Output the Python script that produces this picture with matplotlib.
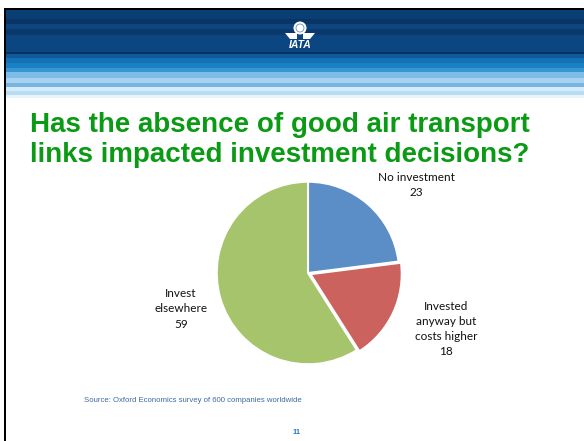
import matplotlib
matplotlib.use("Agg")
import matplotlib.pyplot as plt
from matplotlib.patches import Rectangle, Circle, Polygon

# data
categories = ["No investment", "Invested\nanyway but\ncosts higher", "Invest\nelsewhere"]
values = [23, 18, 59]
colors = ["#5B8EC6", "#CC625E", "#A5C46C"]
title = "Has the absence of good air transport\nlinks impacted investment decisions?"
source = "Source: Oxford Economics survey of 600 companies worldwide"
page_no = "11"

W, H = 584, 441
fig = plt.figure(figsize=(W / 100, H / 100), dpi=100)
fig.patch.set_facecolor("white")

# background axes in pixel coords
bg = fig.add_axes([0, 0, 1, 1])
bg.set_xlim(0, W)
bg.set_ylim(H, 0)
bg.axis("off")

# header stripes (top, bottom, colour)
stripes = [
    (8, 10, "#000000"), (10, 19, "#0A3F75"), (19, 24, "#093464"),
    (24, 29, "#0C4580"), (29, 35, "#0A3A6C"), (35, 52, "#0C4680"),
    (52, 54, "#083060"), (54, 58, "#0F5A9A"), (58, 63, "#1670B5"),
    (63, 68, "#1A80C5"), (68, 72, "#3896D2"), (72, 78, "#7DBDE8"),
    (78, 83, "#A8D3F0"), (83, 87, "#78B6E2"), (87, 91, "#D6EAF8"),
    (91, 95, "#B8DCF3"), (95, 98, "#E8F4FB"),
]
for y0, y1, c in stripes:
    bg.add_patch(Rectangle((4, y0), W, y1 - y0, color=c, lw=0))
# left border
bg.add_patch(Rectangle((4, 8), 2, H, color="#000000", lw=0))

# logo
bg.add_patch(Circle((300, 28), 6.5, color="white", lw=0))
bg.add_patch(Circle((300, 28), 4, fill=False, ec="#6B8FB8", lw=0.6))
bg.add_patch(Polygon([(285, 33), (297, 33), (297, 39), (290, 39)], color="white", lw=0))
bg.add_patch(Polygon([(303, 33), (315, 33), (310, 39), (303, 39)], color="white", lw=0))
bg.text(300, 45, "IATA", color="white", fontsize=7.5, fontweight="bold",
        style="italic", ha="center", va="center", family="Liberation Sans")

# title
bg.text(280, 140, title, color="#0A9A14", fontsize=20, fontweight="bold",
        ha="center", va="center", family="Liberation Sans", linespacing=1.25)

# pie
cx, cy, r = 308, 273, 94
pax = fig.add_axes([(cx - r) / W, 1 - (cy + r) / H, 2 * r / W, 2 * r / H])
pax.pie(values, colors=colors, startangle=90, counterclock=False,
        explode=[0, 0.03, 0], wedgeprops=dict(edgecolor="white", linewidth=1.5))
pax.set_xlim(-1.03, 1.03)
pax.set_ylim(-1.03, 1.03)
pax.set_aspect("equal")
pax.axis("off")

# data labels
label_pos = [(416, 185), (446, 329), (181, 309)]
for (lx, ly), cat, v in zip(label_pos, categories, values):
    bg.text(lx, ly, f"{cat}\n{v}", fontsize=8.5, ha="center", va="center",
            family="Lato", color="#111111", linespacing=1.45)

bg.text(84, 400, source, fontsize=5.6, color="#3D6A9E", ha="left", va="center",
        family="Liberation Sans")
bg.text(297, 432, page_no, fontsize=5.5, color="#2A7CC0", fontweight="bold",
        ha="center", va="center", family="Liberation Sans")

fig.savefig("out.png", dpi=100)
